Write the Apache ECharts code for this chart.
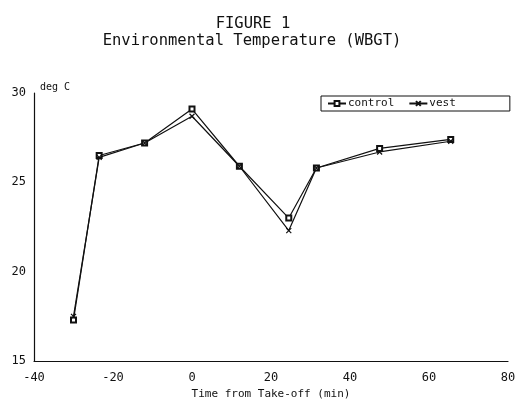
<!DOCTYPE html>
<html>
<head>
<meta charset="utf-8">
<script src="https://cdn.jsdelivr.net/npm/echarts@6/dist/echarts.min.js"></script>
<style>html,body{margin:0;padding:0;background:#fff}#c{width:517px;height:401px}</style>
</head>
<body>
<div id="c"></div>
<script>
var times = [-30, -23.5, -12, 0, 12, 24.5, 31.5, 47.5, 65.5];
var control = [17.3, 26.5, 27.2, 29.1, 25.9, 23.0, 25.8, 26.9, 27.4];
var vest = [17.5, 26.4, 27.2, 28.7, 25.9, 22.3, 25.8, 26.7, 27.3];
var xTicks = [-40, -20, 0, 20, 40, 60, 80];
var yTicks = [15, 20, 25, 30];

function pairs(xs, ys) { return xs.map(function (x, i) { return [x, ys[i]]; }); }
var FONT = 'DejaVu Sans Mono';
var chart = echarts.init(document.getElementById('c'), null, {renderer: 'canvas'});
chart.setOption({
  animation: false,
  backgroundColor: '#fff',
  title: [
    {text: 'FIGURE 1', left: 248, top: 11, textAlign: 'center',
     textStyle: {fontFamily: FONT, fontWeight: 'normal', fontSize: 15.5, color: '#111'}},
    {text: 'Environmental Temperature (WBGT)', left: 247, top: 28, textAlign: 'center',
     textStyle: {fontFamily: FONT, fontWeight: 'normal', fontSize: 15.5, color: '#111'}}
  ],
  legend: {
    left: 321, top: 96, orient: 'horizontal',
    borderColor: '#111', borderWidth: 1, padding: [2, 54, 2, 6],
    itemWidth: 18, itemHeight: 6, itemGap: 14,
    textStyle: {fontFamily: FONT, fontSize: 11, color: '#111', padding: [0, 0, 0, -3]},
    data: ['control', 'vest']
  },
  grid: {left: 34, right: 9, top: 93, bottom: 40, containLabel: false, outerBoundsMode: 'none'},
  xAxis: {
    type: 'value', min: -40, max: 80, interval: 20,
    name: 'Time from Take-off (min)', nameLocation: 'middle', nameGap: 26,
    nameTextStyle: {fontFamily: FONT, fontSize: 11, color: '#111'},
    axisLine: {show: true, onZero: false, lineStyle: {color: '#111', width: 1.2}},
    axisTick: {show: false}, splitLine: {show: false},
    axisLabel: {fontFamily: FONT, fontSize: 12, color: '#111', margin: 11,
      formatter: function (v) { return xTicks.indexOf(v) >= 0 ? String(v) : ''; }}
  },
  yAxis: {
    type: 'value', min: 15, max: 30, interval: 5,
    name: 'deg C', nameLocation: 'end', nameGap: 1,
    nameTextStyle: {fontFamily: FONT, fontSize: 10, color: '#111', align: 'left', padding: [0, 0, 0, 6]},
    axisLine: {show: true, onZero: false, lineStyle: {color: '#111', width: 1.2}},
    axisTick: {show: false}, splitLine: {show: false},
    axisLabel: {fontFamily: FONT, fontSize: 12, color: '#111', margin: 8,
      formatter: function (v) { return yTicks.indexOf(v) >= 0 ? String(v) : ''; }}
  },
  series: [
    {name: 'control', type: 'line', data: pairs(times, control),
     symbol: 'emptyRect', symbolSize: 5,
     itemStyle: {color: '#111', borderColor: '#111', borderWidth: 1.2},
     lineStyle: {color: '#111', width: 1.2}},
    {name: 'vest', type: 'line', data: pairs(times, vest),
     symbol: 'path://M0,0L10,10M10,0L0,10', symbolSize: 5,
     itemStyle: {color: '#111', borderColor: '#111', borderWidth: 1.2},
     lineStyle: {color: '#111', width: 1.2}}
  ]
});
</script>
</body>
</html>
